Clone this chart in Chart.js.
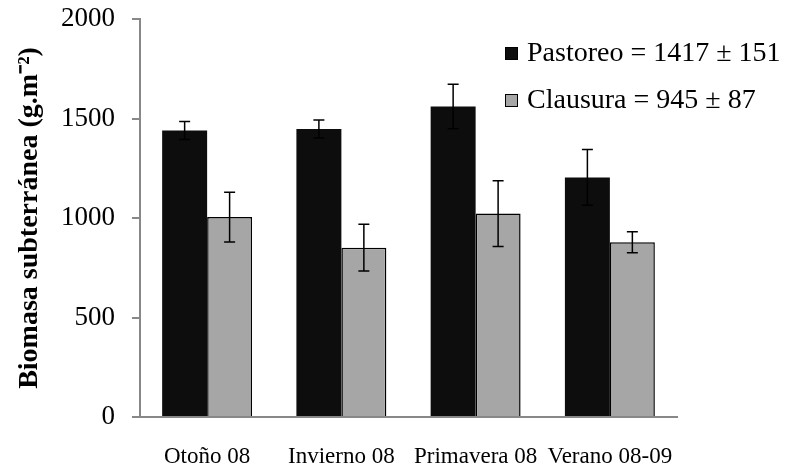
<!DOCTYPE html>
<html>
<head>
<meta charset="utf-8">
<script src="https://cdn.jsdelivr.net/npm/chart.js@4"></script>
<style>
  html, body { margin: 0; padding: 0; background: #fff; }
  #wrap { width: 785px; height: 468px; }
</style>
</head>
<body>
<div id="wrap"><canvas id="bioChart"></canvas></div>
<script>
// ---- data ----
const seasons = ['Otoño 08', 'Invierno 08', 'Primavera 08', 'Verano 08-09'];
const pastoreo = [1440, 1447, 1560, 1204];
const pastoreoErr = [45, 45, 112, 140];
const clausura = [1005, 851, 1022, 878];
const clausuraErr = [125, 117, 165, 53];
const legendLabels = ['Pastoreo = 1417 ± 151', 'Clausura = 945 ± 87'];
const yTicks = [0, 500, 1000, 1500, 2000];

const serif = "'Liberation Serif', 'Times New Roman', serif";

// error bars drawn on top of each bar
const errorBars = {
    id: 'errorBars',
    afterDatasetsDraw(chart) {
        const ctx = chart.ctx;
        const y = chart.scales.y;
        const errs = [pastoreoErr, clausuraErr];
        ctx.save();
        ctx.strokeStyle = '#000';
        ctx.lineWidth = 1.5;
        chart.data.datasets.forEach((ds, i) => {
            chart.getDatasetMeta(i).data.forEach((bar, j) => {
                const v = ds.data[j];
                const top = y.getPixelForValue(v + errs[i][j]);
                const bot = y.getPixelForValue(v - errs[i][j]);
                const x = bar.x;
                ctx.beginPath();
                ctx.moveTo(x, top); ctx.lineTo(x, bot);
                ctx.moveTo(x - 5.5, top); ctx.lineTo(x + 5.5, top);
                ctx.moveTo(x - 5.5, bot); ctx.lineTo(x + 5.5, bot);
                ctx.stroke();
            });
        });
        ctx.restore();
    }
};

// legend inside the plot, top right
const boxLegend = {
    id: 'boxLegend',
    afterDraw(chart) {
        const ctx = chart.ctx;
        ctx.save();
        ctx.font = '28px ' + serif;
        ctx.textBaseline = 'middle';
        ctx.textAlign = 'left';
        chart.data.datasets.forEach((ds, i) => {
            const cy = 53 + i * 47;
            ctx.fillStyle = ds.backgroundColor;
            ctx.fillRect(505, cy - 6, 13, 13);
            ctx.strokeStyle = '#000';
            ctx.lineWidth = 1;
            ctx.strokeRect(505.5, cy - 5.5, 12, 12);
            ctx.fillStyle = '#000';
            ctx.fillText(legendLabels[i], 527, cy + 1);
        });
        ctx.restore();
    }
};

new Chart(document.getElementById('bioChart'), {
    type: 'bar',
    data: {
        labels: seasons,
        datasets: [{
            label: 'Pastoreo',
            data: pastoreo,
            backgroundColor: '#0d0d0d',
            borderColor: '#0d0d0d',
            borderWidth: 0
        }, {
            label: 'Clausura',
            data: clausura,
            backgroundColor: '#a6a6a6',
            borderColor: '#000',
            borderWidth: 1.5
        }]
    },
    options: {
        responsive: true,
        maintainAspectRatio: false,
        animation: false,
        layout: { padding: { top: 19, right: 108, bottom: 0, left: 0 } },
        categoryPercentage: 0.67,
        barPercentage: 1.0,
        plugins: {
            legend: { display: false },
            tooltip: { enabled: false }
        },
        scales: {
            x: {
                grid: { display: false },
                border: { display: true, color: '#888', width: 2 },
                ticks: {
                    color: '#000',
                    font: { family: serif, size: 23 },
                    padding: 18,
                    maxRotation: 0,
                    autoSkip: false
                },
                afterFit(scale) {
                    scale.height = 51;
                    scale.paddingLeft = 0;
                    scale.paddingRight = 0;
                }
            },
            y: {
                min: 0,
                max: 2000,
                afterBuildTicks(scale) { scale.ticks = yTicks.map(v => ({ value: v })); },
                grid: { drawOnChartArea: false, drawTicks: true, tickLength: 8, color: '#888', lineWidth: 2 },
                border: { display: true, color: '#888', width: 2 },
                ticks: {
                    color: '#000',
                    font: { family: serif, size: 27 },
                    padding: 17,
                    callback: v => String(v)
                },
                title: {
                    display: true,
                    text: 'Biomasa subterránea (g.m⁻²)',
                    color: '#000',
                    font: { family: serif, size: 28, weight: 'bold' },
                    padding: { top: 13, bottom: 0 }
                },
                afterFit(scale) {
                    scale.width = 140;
                    scale.paddingTop = 0;
                    scale.paddingBottom = 0;
                }
            }
        }
    },
    plugins: [errorBars, boxLegend]
});
</script>
</body>
</html>
